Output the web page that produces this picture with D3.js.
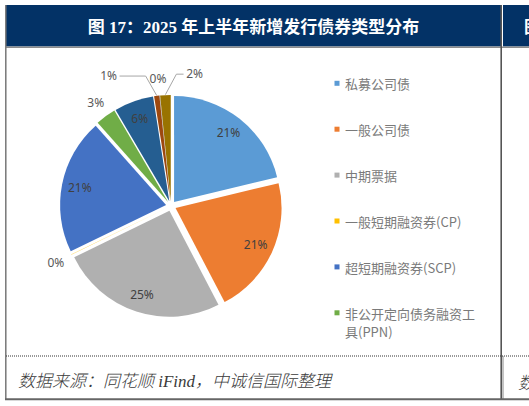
<!DOCTYPE html>
<html>
<head>
<meta charset="utf-8">
<script src="https://cdn.jsdelivr.net/npm/d3@7"></script>
<style>
  body { margin: 0; background: #fff; overflow: hidden; }
  svg { display: block; }
  .legend-text { font-family: "Noto Sans CJK SC", "Noto Sans", sans-serif; font-size: 13px; fill: #7a7a7a; }
  .pct { font-family: "Noto Sans", "Open Sans", sans-serif; font-size: 12px; }
</style>
</head>
<body>
<div class="chart"></div>
<script>
// 類別與數值 (依圖讀取, 單位%)
const categories = ['私募公司债', '一般公司债', '中期票据', '一般短期融资券(CP)', '超短期融资券(SCP)',
  '非公开定向债务融资工具(PPN)', '企业债', '公司债其他', '定向工具其他', '资产支持证券'];
const shares = [21.2, 21.1, 25.4, 0.05, 20.6, 3.1, 6.0, 0.8, 0.05, 1.6];
const colors = ['#5B9BD5', '#ED7D31', '#B0B0B0', '#FFC000', '#4472C4', '#70AD47',
  '#255E91', '#9E480E', '#636363', '#997300'];
// 只有前六項在圖例中可見
const legendCount = 6;

const titleText = '图 17：2025 年上半年新增发行债券类型分布';
const sourceText = '数据来源：同花顺 iFind，中诚信国际整理';

const W = 529, H = 406;
const svg = d3.select('.chart').append('svg').attr('width', W).attr('height', H);

// 外框與標題列
const panelLeft = 6, panelRight = 501, titleTop = 5, titleBottom = 46.5;
svg.append('rect').attr('x', panelLeft).attr('y', titleTop)
  .attr('width', panelRight - panelLeft).attr('height', titleBottom - titleTop).attr('fill', '#033266');
svg.append('rect').attr('x', 503).attr('y', titleTop)
  .attr('width', W - 503).attr('height', titleBottom - titleTop).attr('fill', '#033266');
svg.append('line').attr('x1', panelLeft).attr('x2', W).attr('y1', 47.3).attr('y2', 47.3)
  .attr('stroke', '#8c8c8c').attr('stroke-width', 1.6);
svg.append('line').attr('x1', 5.8).attr('x2', 5.8).attr('y1', titleTop).attr('y2', 400)
  .attr('stroke', '#777').attr('stroke-width', 1.5);
svg.append('line').attr('x1', 501.2).attr('x2', 501.2).attr('y1', titleTop).attr('y2', 400)
  .attr('stroke', '#555').attr('stroke-width', 1.6);
svg.append('line').attr('x1', 503).attr('x2', 503).attr('y1', 356).attr('y2', 400)
  .attr('stroke', '#888').attr('stroke-width', 1);
svg.append('line').attr('x1', panelLeft).attr('x2', W).attr('y1', 356).attr('y2', 356)
  .attr('stroke', '#333').attr('stroke-width', 1).attr('stroke-dasharray', '1,1');
svg.append('line').attr('x1', 5).attr('x2', W).attr('y1', 399.3).attr('y2', 399.3)
  .attr('stroke', '#666').attr('stroke-width', 2);

svg.append('text').attr('x', (panelLeft + panelRight) / 2).attr('y', 27)
  .attr('text-anchor', 'middle').attr('dominant-baseline', 'central')
  .style('font-family', '"Liberation Serif", "Noto Sans CJK SC", serif')
  .style('font-size', '17px').style('font-weight', 'bold').style('fill', '#fff')
  .text(titleText);
// 右側鄰圖被裁切的部分
svg.append('text').attr('x', 524).attr('y', 27).attr('dominant-baseline', 'central')
  .style('font-family', '"Liberation Serif", "Noto Sans CJK SC", serif')
  .style('font-size', '17px').style('font-weight', 'bold').style('fill', '#fff')
  .text('图 18');

svg.append('text').attr('x', 18).attr('y', 381).attr('dominant-baseline', 'central')
  .style('font-family', '"Liberation Serif", "Noto Sans CJK SC", serif')
  .style('font-size', '17px').style('font-style', 'italic').style('font-weight', 300).style('fill', '#3a3a3a')
  .text(sourceText);
svg.append('text').attr('x', 518).attr('y', 381).attr('dominant-baseline', 'central')
  .style('font-family', '"Noto Sans CJK SC", serif')
  .style('font-size', '17px').style('font-style', 'italic').style('font-weight', 300).style('fill', '#3a3a3a')
  .text('数据来源');

// 圓餅
const cx = 171, cy = 206, radius = 106, explode = 5;
const pieData = categories.map((c, i) => ({ name: c, value: shares[i], color: colors[i] }));
const pie = d3.pie().value(d => d.value).sort(null);
const arcs = pie(pieData);
const arc = d3.arc().innerRadius(0).outerRadius(radius);
const mid = d => (d.startAngle + d.endAngle) / 2;
const polar = (a, r) => [Math.sin(a) * r, -Math.cos(a) * r];
const fmt = v => d3.format('.0f')(v) + '%';

const g = svg.append('g').attr('transform', `translate(${cx},${cy})`);
g.selectAll('.slice').data(arcs).enter()
  .append('path').attr('class', 'slice')
  .attr('transform', d => `translate(${polar(mid(d), explode)})`)
  .attr('d', arc)
  .attr('fill', d => d.data.color);

// 標籤: 大塊放內部, 小塊放外側
const inside = d => d.data.value >= 5;
const labelShift = { '公司债其他': [-46, -4], '资产支持证券': [30, -5] };

const labelPos = d => {
  if (inside(d)) {
    const p = polar(mid(d), radius * 0.83 + explode);
    return p;
  }
  const p = polar(mid(d), radius + 22);
  const s = labelShift[d.data.name] || [0, 0];
  return [p[0] + s[0], p[1] + s[1]];
};

// 引導線
arcs.filter(d => labelShift[d.data.name]).forEach(d => {
  const [lx, ly] = labelPos(d);
  const end = polar(mid(d), radius + explode + 0.5);
  const dir = lx < end[0] ? -1 : 1;
  const elbow = [end[0] + dir * 11, ly + 1];
  const start = [lx - dir * 11, ly + 1];
  g.append('path')
    .attr('d', d3.line()([start, elbow, end]))
    .attr('fill', 'none').attr('stroke', '#a6a6a6').attr('stroke-width', 1);
});

g.selectAll('.pct').data(arcs).enter()
  .append('text').attr('class', 'pct')
  .attr('x', d => labelPos(d)[0]).attr('y', d => labelPos(d)[1])
  .attr('text-anchor', 'middle').attr('dominant-baseline', 'central')
  .style('fill', d => inside(d) ? '#404040' : '#595959')
  .text(d => fmt(d.data.value));

// 圖例
const legendX = 337, legendTop = 83.3, legendStep = 45.9, wrapWidth = 138;
const legend = svg.append('g');
pieData.slice(0, legendCount).forEach((d, i) => {
  const y = legendTop + i * legendStep;
  legend.append('rect').attr('x', legendX - 2.5).attr('y', y - 2.5)
    .attr('width', 5).attr('height', 5).attr('fill', d.color);
  const t = legend.append('text').attr('class', 'legend-text')
    .attr('x', legendX + 8).attr('y', y).attr('dominant-baseline', 'central');
  // 逐字換行
  let line = '', lines = [];
  const tmp = legend.append('text').attr('class', 'legend-text');
  for (const ch of d.name) {
    tmp.text(line + ch);
    if (tmp.node().getComputedTextLength() > wrapWidth && line) {
      lines.push(line); line = ch;
    } else line += ch;
  }
  lines.push(line);
  tmp.remove();
  lines.forEach((l, k) => {
    t.append('tspan').attr('x', legendX + 8).attr('dy', k === 0 ? 0 : 18).text(l);
  });
});
</script>
</body>
</html>
